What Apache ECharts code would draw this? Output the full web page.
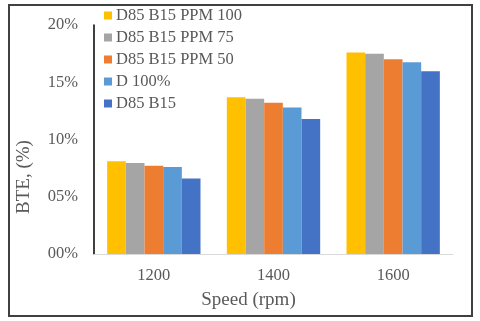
<!DOCTYPE html>
<html>
<head>
<meta charset="utf-8">
<script src="https://cdn.jsdelivr.net/npm/echarts@6/dist/echarts.min.js"></script>
<style>
  html, body { margin: 0; padding: 0; background: #fff; }
  #chart { width: 480px; height: 321px; }
</style>
</head>
<body>
<div id="chart"></div>
<script>
// data
var speeds = ['1200', '1400', '1600'];
var seriesNames = ['D85 B15 PPM 100', 'D85 B15 PPM 75', 'D85 B15 PPM 50', 'D 100%', 'D85 B15'];
var ppm100 = [8.1, 13.7, 17.6];
var ppm75 = [7.95, 13.55, 17.5];
var ppm50 = [7.7, 13.2, 17.0];
var d100 = [7.6, 12.8, 16.75];
var d85b15 = [6.6, 11.8, 15.95];
var yTicks = [0, 5, 10, 15, 20];
var colors = ['#FFC000', '#A5A5A5', '#ED7D31', '#5B9BD5', '#4472C4'];

var allValues = [ppm100, ppm75, ppm50, d100, d85b15];
var fontName = '"Liberation Serif", "DejaVu Serif", serif';
var textColor = '#595959';

var chart = echarts.init(document.getElementById('chart'));

var series = seriesNames.map(function (name, i) {
    return {
        name: name,
        type: 'bar',
        data: allValues[i],
        barGap: '0%',
        barCategoryGap: '22%',
        itemStyle: { color: colors[i] }
    };
});

chart.setOption({
    backgroundColor: '#fff',
    animation: false,
    color: colors,
    textStyle: { fontFamily: fontName },
    grid: { left: 94, right: 27, top: 25, bottom: 67 },
    legend: {
        orient: 'vertical',
        left: 99,
        top: 2,
        itemWidth: 8,
        itemHeight: 8,
        itemGap: 5,
        icon: 'rect',
        data: seriesNames,
        textStyle: { fontFamily: fontName, fontSize: 16.5, color: textColor, lineHeight: 16, padding: [0, 0, 0, -1] }
    },
    xAxis: {
        type: 'category',
        data: speeds,
        name: 'Speed (rpm)',
        nameLocation: 'middle',
        nameGap: 37,
        nameTextStyle: { fontFamily: fontName, fontSize: 19, color: textColor, padding: [0, 50, 0, 0] },
        axisLine: { lineStyle: { color: '#D9D9D9', width: 1 } },
        axisTick: { show: false },
        axisLabel: { fontFamily: fontName, fontSize: 16.5, color: textColor, margin: 13 }
    },
    yAxis: {
        type: 'value',
        min: yTicks[0],
        max: yTicks[yTicks.length - 1],
        interval: 5,
        name: 'BTE, (%)',
        nameLocation: 'middle',
        nameGap: 60,
        nameTextStyle: { fontFamily: fontName, fontSize: 19, color: textColor, padding: [0, 75, 0, 0] },
        axisLine: { show: true, lineStyle: { color: '#000', width: 1.5 } },
        axisTick: { show: false },
        splitLine: { show: false },
        axisLabel: {
            fontFamily: fontName, fontSize: 16.5, color: textColor, margin: 16,
            formatter: function (v) { return (v < 10 ? '0' : '') + v + '%'; }
        }
    },
    graphic: [{
        type: 'rect',
        shape: { x: 9, y: 5, width: 463, height: 311 },
        style: { fill: null, stroke: '#404040', lineWidth: 2 },
        silent: true
    }],
    series: series
});
</script>
</body>
</html>
